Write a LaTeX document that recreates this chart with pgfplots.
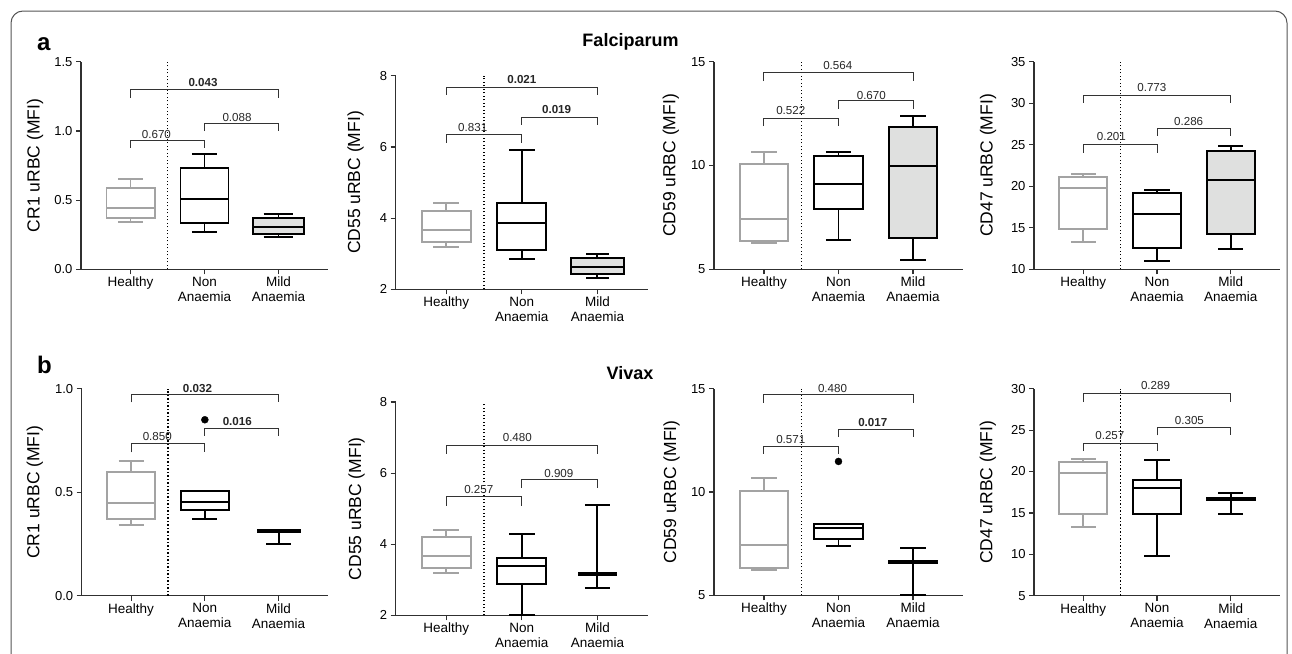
\documentclass[border=0pt]{standalone}
\usepackage{fontspec}
\setmainfont{Liberation Sans}
\usepackage{pgfplots}
\pgfplotsset{compat=1.18}
\usepgfplotslibrary{statistics}
\definecolor{hgray}{HTML}{A3A3A3}
\definecolor{mfill}{HTML}{DFE0DF}
\definecolor{axc}{HTML}{303030}
\definecolor{brc}{HTML}{333333}
\definecolor{frc}{HTML}{555555}
\pgfplotsset{
  panel/.style={
    scale only axis, axis lines=left, axis line style={-, line width=1.2pt, color=axc},
    xmin=-0.67, xmax=2.67, xtick={0,1,2},
    xticklabels={Healthy,{Non\\Anaemia},{Mild\\Anaemia}},
    xticklabel style={align=center, font=\fontsize{13.5}{15}\selectfont, text=black, inner sep=2.5pt},
    yticklabel style={font=\fontsize{13}{14}\selectfont, text=black},
    tick align=outside, major tick length=5pt, tick style={line width=1.2pt, color=axc},
    ylabel style={font=\fontsize{17.5}{20}\selectfont, anchor=center},
    clip=false,
    /pgf/number format/assume math mode=true,
    boxplot/draw direction=y,
  },
  hbox/.style={draw=hgray, line width=1.9pt, fill=white, solid, boxplot/box extend=0.65, boxplot/whisker extend=0.34},
  nbox/.style={draw=black, line width=1.9pt, fill=white, solid, boxplot/box extend=0.65, boxplot/whisker extend=0.34},
  mbox/.style={draw=black, line width=1.9pt, fill=mfill, solid, boxplot/box extend=0.65, boxplot/whisker extend=0.34},
}
\tikzset{
  brk/.style={draw=brc, line width=1pt},
  blab/.style={font=\fontsize{11.6}{13}\selectfont, text=black!85, inner sep=0pt},
  dotline/.style={draw=black, line width=1.3pt, dash pattern=on 1.3pt off 2.2pt},
}
\newcommand{\bp}[7]{\addplot[#1, boxplot prepared={draw position=#2, lower whisker=#3, lower quartile=#4, median=#5, upper quartile=#6, upper whisker=#7}] coordinates {};}
\newcommand{\br}[7]{\draw[brk] (axis cs:#1,#4) |- (axis cs:#2,#3) -- (axis cs:#2,#4); \node[blab] at (axis cs:#5,#6) {#7};}
\newcommand{\dline}[2]{\draw[dotline] (axis cs:0.5,#1) -- (axis cs:0.5,#2);}
\begin{document}
\begin{tikzpicture}
\path[use as bounding box] (0,0) rectangle (1292pt,-653pt);
\draw[frc, line width=1pt, rounded corners=12pt] (11pt,-700pt) -- (11pt,-11pt) -- (1287pt,-11pt) -- (1287pt,-700pt);
\node[anchor=base west, font=\fontsize{24}{26}\selectfont\bfseries, inner sep=0pt] at (37pt,-50pt) {a};
\node[anchor=base west, font=\fontsize{24}{26}\selectfont\bfseries, inner sep=0pt] at (37pt,-373pt) {b};
\node[anchor=base, font=\fontsize{18}{20}\selectfont\bfseries, inner sep=0pt] at (630.5pt,-46pt) {Falciparum};
\node[anchor=base, font=\fontsize{18}{20}\selectfont\bfseries, inner sep=0pt] at (630pt,-379pt) {Vivax};

% ---------- Row a ----------
\begin{axis}[panel, at={(81pt,-269.3pt)}, anchor=south west, width=247pt, height=207.6pt,
  ymin=0, ymax=1.5, ytick={0,0.5,1,1.5},
  yticklabel style={/pgf/number format/fixed, /pgf/number format/fixed zerofill, /pgf/number format/precision=1},
  ylabel={CR1 uRBC (MFI)}, ylabel style={at={(axis description cs:-0.186,0.5)}}]
\dline{0}{1.5}
\bp{hbox}{0}{0.342}{0.373}{0.445}{0.590}{0.650}
\bp{nbox}{1}{0.272}{0.332}{0.510}{0.732}{0.831}
\bp{mbox, boxplot/box extend=0.7, boxplot/whisker extend=0.4}{2}{0.231}{0.255}{0.308}{0.371}{0.402}
\br{0}{1}{0.934}{0.879}{0.35}{0.977}{0.670}
\br{1}{2}{1.055}{0.999}{1.44}{1.095}{0.088}
\br{0}{2}{1.296}{1.236}{0.98}{1.351}{\bfseries 0.043}
\end{axis}

\begin{axis}[panel, at={(395.7pt,-289.3pt)}, anchor=south west, width=252.3pt, height=213.6pt,
  ymin=2, ymax=8, ytick={2,4,6,8},
  ylabel={CD55 uRBC (MFI)}, ylabel style={at={(axis description cs:-0.159,0.5)}}]
\dline{2}{8}
\bp{hbox}{0}{3.19}{3.33}{3.67}{4.21}{4.42}
\bp{nbox}{1}{2.84}{3.11}{3.87}{4.42}{5.91}
\bp{mbox, boxplot/box extend=0.7, boxplot/whisker extend=0.3}{2}{2.33}{2.43}{2.63}{2.87}{2.99}
\br{0}{1}{6.35}{6.12}{0.35}{6.54}{0.831}
\br{1}{2}{6.83}{6.62}{1.46}{7.06}{\bfseries 0.019}
\br{0}{2}{7.67}{7.46}{1.0}{7.90}{\bfseries 0.021}
\end{axis}

\begin{axis}[panel, at={(714pt,-269.3pt)}, anchor=south west, width=249pt, height=207.6pt,
  ymin=5, ymax=15, ytick={5,10,15},
  ylabel={CD59 uRBC (MFI)}, ylabel style={at={(axis description cs:-0.173,0.5)}}]
\dline{5}{15}
\bp{hbox}{0}{6.25}{6.36}{7.42}{10.06}{10.66}
\bp{nbox}{1}{6.41}{7.89}{9.12}{10.47}{10.66}
\bp{mbox}{2}{5.46}{6.51}{9.98}{11.85}{12.37}
\br{0}{1}{12.27}{11.90}{0.36}{12.67}{0.522}
\br{1}{2}{13.12}{12.74}{1.44}{13.36}{0.670}
\br{0}{2}{14.49}{14.07}{0.99}{14.81}{0.564}
\end{axis}

\begin{axis}[panel, at={(1034pt,-269.3pt)}, anchor=south west, width=246pt, height=207.6pt,
  ymin=10, ymax=35, ytick={10,15,...,35},
  ylabel={CD47 uRBC (MFI)}, ylabel style={at={(axis description cs:-0.187,0.5)}}]
\dline{10}{35}
\bp{hbox}{0}{13.25}{14.82}{19.76}{21.12}{21.48}
\bp{nbox}{1}{11.04}{12.60}{16.70}{19.16}{19.52}
\bp{mbox}{2}{12.48}{14.22}{20.76}{24.25}{24.89}
\br{0}{1}{25.06}{24.05}{0.38}{26.0}{0.201}
\br{1}{2}{27.0}{26.06}{1.43}{27.8}{0.286}
\br{0}{2}{30.92}{30.04}{0.93}{31.93}{0.773}
\end{axis}

% ---------- Row b ----------
\begin{axis}[panel, at={(81.7pt,-595.7pt)}, anchor=south west, width=246.3pt, height=207pt,
  ymin=0, ymax=1, ytick={0,0.5,1},
  yticklabel style={/pgf/number format/fixed, /pgf/number format/fixed zerofill, /pgf/number format/precision=1},
  ylabel={CR1 uRBC (MFI)}, ylabel style={at={(axis description cs:-0.19,0.5)}}]
\dline{0}{1}
\bp{hbox}{0}{0.343}{0.372}{0.448}{0.597}{0.652}
\bp{nbox}{1}{0.372}{0.415}{0.452}{0.507}{0.507}
\bp{nbox, boxplot/box extend=0.57, boxplot/whisker extend=0.33}{2}{0.251}{0.306}{0.311}{0.316}{0.316}
\addplot[only marks, mark=*, mark size=3.5pt, black] coordinates {(1,0.85)};
\br{0}{1}{0.733}{0.692}{0.355}{0.770}{0.850}
\br{1}{2}{0.81}{0.773}{1.44}{0.84}{\bfseries 0.016}
\br{0}{2}{0.974}{0.934}{0.90}{1.003}{\bfseries 0.032}
\end{axis}

\begin{axis}[panel, at={(395.7pt,-615.3pt)}, anchor=south west, width=252.3pt, height=213.3pt,
  ymin=2, ymax=8, ytick={2,4,6,8},
  ylabel={CD55 uRBC (MFI)}, ylabel style={at={(axis description cs:-0.155,0.5)}}]
\dline{2}{8}
\bp{hbox}{0}{3.18}{3.32}{3.67}{4.20}{4.40}
\bp{nbox}{1}{2.00}{2.89}{3.38}{3.61}{4.28}
\bp{nbox, boxplot/box extend=0.5, boxplot/whisker extend=0.33}{2}{2.77}{3.14}{3.17}{3.20}{5.11}
\br{0}{1}{5.35}{5.08}{0.43}{5.55}{0.257}
\br{1}{2}{5.82}{5.58}{1.49}{6.00}{0.909}
\br{0}{2}{6.77}{6.54}{0.94}{6.99}{0.480}
\end{axis}

\begin{axis}[panel, at={(714pt,-595.3pt)}, anchor=south west, width=249pt, height=206.6pt,
  ymin=5, ymax=15, ytick={5,10,15},
  ylabel={CD59 uRBC (MFI)}, ylabel style={at={(axis description cs:-0.17,0.5)}}]
\dline{5}{15}
\bp{hbox}{0}{6.24}{6.34}{7.42}{10.05}{10.68}
\bp{nbox}{1}{7.40}{7.71}{8.27}{8.47}{8.47}
\bp{nbox}{2}{5.00}{6.58}{6.63}{6.68}{7.29}
\addplot[only marks, mark=*, mark size=3.5pt, black] coordinates {(1,11.48)};
\br{0}{1}{12.21}{11.84}{0.36}{12.56}{0.571}
\br{1}{2}{13.02}{12.66}{1.46}{13.34}{\bfseries 0.017}
\br{0}{2}{14.74}{14.31}{0.92}{15.0}{0.480}
\end{axis}

\begin{axis}[panel, at={(1034pt,-595.7pt)}, anchor=south west, width=246pt, height=207pt,
  ymin=5, ymax=30, ytick={5,10,...,30},
  ylabel={CD47 uRBC (MFI)}, ylabel style={at={(axis description cs:-0.188,0.5)}}]
\dline{5}{30}
\bp{hbox}{0}{13.33}{14.86}{19.81}{21.14}{21.5}
\bp{nbox}{1}{9.75}{14.82}{18.0}{18.97}{21.43}
\bp{nbox}{2}{14.9}{16.55}{16.67}{16.79}{17.4}
\br{0}{1}{23.44}{22.47}{0.36}{24.32}{0.257}
\br{1}{2}{25.37}{24.36}{1.44}{26.18}{0.305}
\br{0}{2}{29.4}{28.39}{0.98}{30.36}{0.289}
\end{axis}
\end{tikzpicture}
\end{document}
